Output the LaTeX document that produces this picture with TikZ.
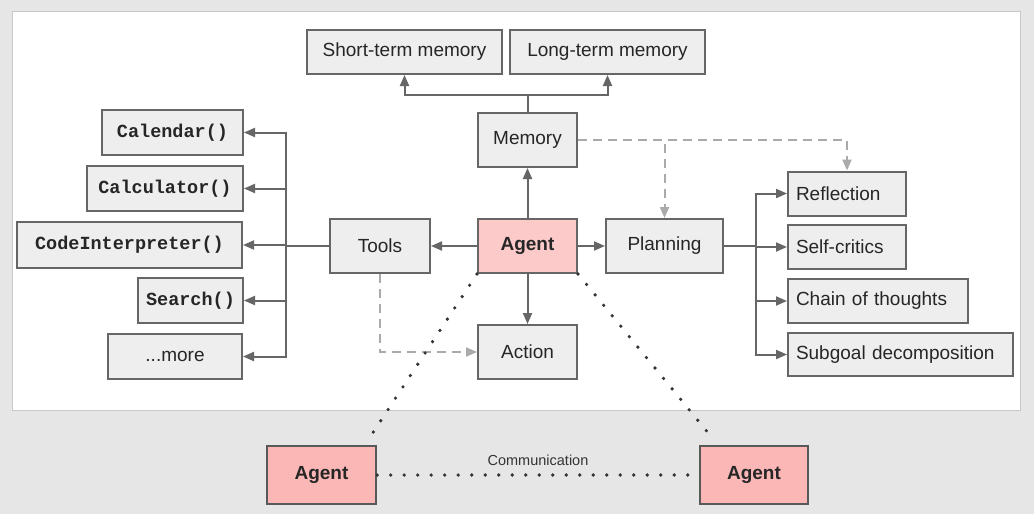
\documentclass[tikz,border=0pt]{standalone}
\usepackage{fontspec}
\setmainfont{Liberation Sans}
\setmonofont{Liberation Mono}
\usetikzlibrary{arrows.meta, positioning, calc}
\definecolor{pagegray}{HTML}{E6E6E6}
\definecolor{panelline}{HTML}{C8C8C8}
\definecolor{boxfill}{HTML}{EEEEEE}
\definecolor{boxline}{HTML}{666666}
\definecolor{agentpink}{HTML}{FDCACA}
\definecolor{agentdeep}{HTML}{FBB6B6}
\definecolor{dashgray}{HTML}{AAAAAA}
\definecolor{dotgray}{HTML}{333333}
\tikzset{
  box/.style={draw=boxline, fill=boxfill, line width=2pt, inner sep=0pt,
    font=\fontsize{19}{22}\selectfont, text=black!85},
  codebox/.style={box, font=\fontsize{18.5}{21}\selectfont\ttfamily\bfseries},
  agentbox/.style={box, fill=agentpink, font=\fontsize{19}{22}\selectfont\bfseries},
  peerbox/.style={agentbox, fill=agentdeep, draw=black!65, line width=2.4pt},
  conn/.style={draw=boxline, line width=2pt},
  arr/.style={conn, -{Triangle[length=11pt,width=9pt]}},
  dasharr/.style={draw=dashgray, line width=2pt, dash pattern=on 9pt off 6pt,
    -{Triangle[length=11pt,width=9pt]}},
  talk/.style={draw=dotgray, line width=3.6pt, line cap=round, dash pattern=on 0pt off 13.5pt}
}
\begin{document}
\begin{tikzpicture}[x=1pt, y=-1pt]
  \useasboundingbox (0,0) rectangle (1034,514);
  \fill[pagegray] (0,0) rectangle (1034,514);
  \draw[panelline, fill=white, line width=0.8pt] (12,11) rectangle (1020,410);

  % memory part
  \node[box, minimum width=195pt, minimum height=44pt] (shortmem) at (404.5,52) {Short-term memory};
  \node[box, minimum width=195pt, minimum height=44pt] (longmem) at (607.5,52) {Long-term memory};
  \node[box, minimum width=99pt, minimum height=54pt] (memory) at (527.5,140) {Memory};

  % center row
  \node[agentbox, minimum width=99pt, minimum height=54pt] (agent) at (527.5,246) {Agent};
  \node[box, minimum width=100pt, minimum height=54pt] (tools) at (380,246) {Tools};
  \node[box, minimum width=117pt, minimum height=54pt] (planning) at (664.5,246) {Planning};
  \node[box, minimum width=99pt, minimum height=54pt] (action) at (527.5,352) {Action};

  % tools
  \node[codebox, minimum width=141pt, minimum height=45pt] (calendar) at (172.5,132.5) {Calendar()};
  \node[codebox, minimum width=156pt, minimum height=45pt] (calculator) at (165,188.5) {Calculator()};
  \node[codebox, minimum width=225pt, minimum height=46pt] (codeint) at (129.5,245) {CodeInterpreter()};
  \node[codebox, minimum width=105pt, minimum height=45pt] (search) at (190.5,300.5) {Search()};
  \node[box, minimum width=134pt, minimum height=45pt] (more) at (175,356.5) {...more};

  % planning
  \node[box, minimum width=118pt, minimum height=44pt, text width=102pt, align=left] (reflection) at (847,193.5) {Reflection};
  \node[box, minimum width=118pt, minimum height=44pt, text width=102pt, align=left] (selfcrit) at (847,247) {Self-critics};
  \node[box, minimum width=180pt, minimum height=44pt, text width=164pt, align=left] (chain) at (878,301) {Chain of thoughts};
  \node[box, minimum width=225pt, minimum height=43pt, text width=209pt, align=left] (subgoal) at (900.5,354.5) {Subgoal decomposition};

  % other agents
  \node[peerbox, minimum width=109pt, minimum height=58pt] (agentleft) at (321.5,475) {Agent};
  \node[peerbox, minimum width=108pt, minimum height=58pt] (agentright) at (754,475) {Agent};

  % connectors
  \draw[conn] (memory.north) -- ++(0,-17) coordinate (membus);
  \draw[arr] (membus) -| (shortmem.south);
  \draw[arr] (membus) -| (longmem.south);
  \draw[arr] (agent) -- (memory);
  \draw[arr] (agent) -- (action);
  \draw[arr] (agent) -- (tools);
  \draw[arr] (agent) -- (planning);

  \coordinate (toolbus) at ($(tools.west)+(-43,0)$);
  \foreach \t in {calendar, calculator, codeint, search, more}
    \draw[arr] (tools.west) -- (toolbus) |- (\t.east);

  \coordinate (planbus) at ($(planning.east)+(32,0)$);
  \foreach \p in {reflection, selfcrit, chain, subgoal}
    \draw[arr] (planning.east) -- (planbus) |- (\p.west);

  \draw[dasharr] (memory.east) -| (reflection.north);
  \draw[dasharr] (memory.east) -| (planning.north);
  \draw[dasharr] (tools.south) |- (action.west);

  % communication
  \draw[talk] (agent.south west) -- ([xshift=-9pt,yshift=5pt]agentleft.north east);
  \draw[talk] (agent.south east) -- ([xshift=15pt,yshift=5pt]agentright.north west);
  \draw[talk] (agentleft.east) -- (agentright.west)
    node[midway, above=4pt, font=\fontsize{14.5}{16}\selectfont, text=black!80] (commlabel) {Communication};
\end{tikzpicture}
\end{document}
